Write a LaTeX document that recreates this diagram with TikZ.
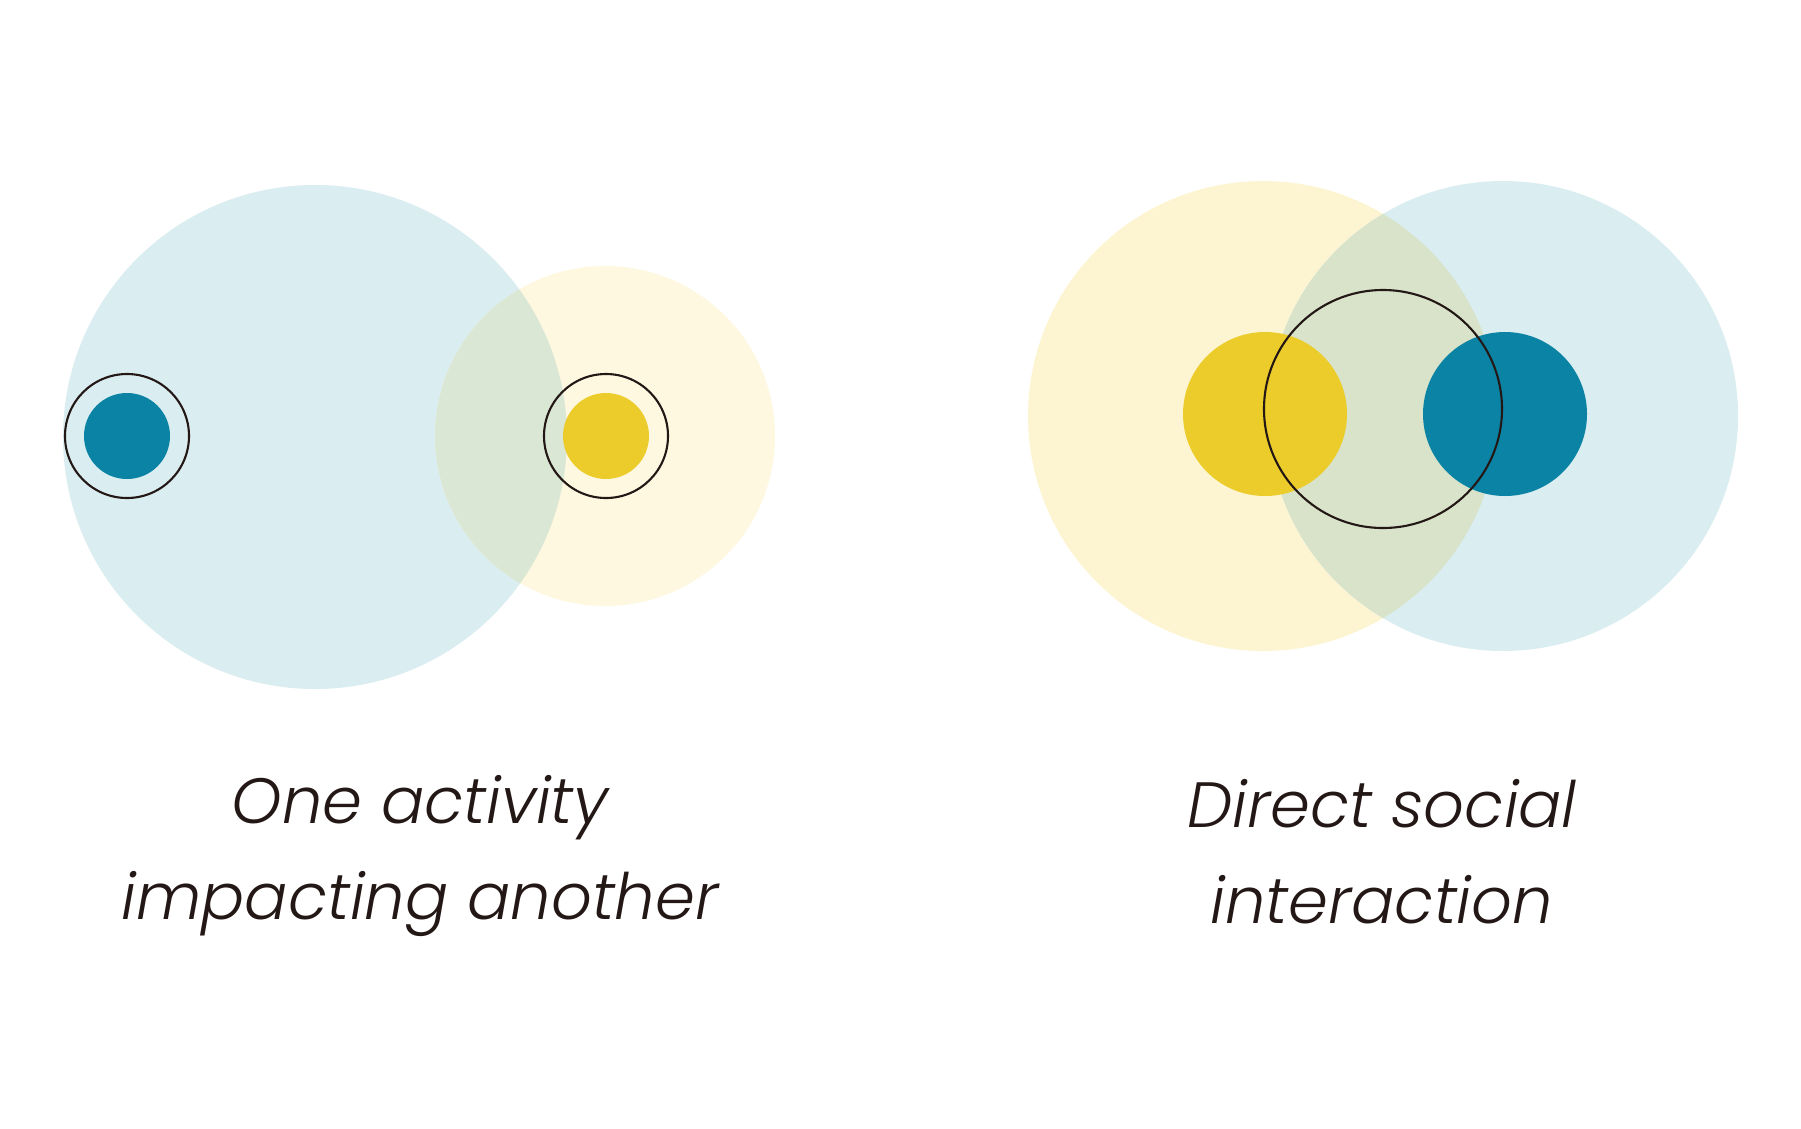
\documentclass[tikz,border=0pt]{standalone}
\usepackage{fontspec}
\newfontfamily\popfont{Poppins Light}[ItalicFont=Poppins Light Italic]
\definecolor{lblue}{HTML}{DAEDF0}
\definecolor{lyellowA}{HTML}{FEF8E1}
\definecolor{lyellowB}{HTML}{FDF5D2}
\definecolor{mixA}{HTML}{DAE7D4}
\definecolor{mixB}{HTML}{D8E3C9}
\definecolor{dblue}{HTML}{0A83A5}
\definecolor{dyellow}{HTML}{ECCC2A}
\definecolor{ink}{HTML}{231816}
\tikzset{
  ringline/.style={draw=ink, line width=2.1pt},
  lbl/.style={font=\popfont\itshape\fontsize{64pt}{76pt}\selectfont, text=ink, anchor=base, inner sep=0pt}
}
\begin{document}
\begin{tikzpicture}[x=1pt,y=-1pt]
\useasboundingbox (0,0) rectangle (1801,1128);
\fill[white] (0,0) rectangle (1801,1128);
% ---- left group ----
\fill[lblue] (315,437) circle (252pt);
\fill[lyellowA] (605,436) circle (170pt);
\begin{scope}
  \clip (315,437) circle (252pt);
  \fill[mixA] (605,436) circle (170pt);
\end{scope}
\fill[dblue] (127,436) circle (43pt);
\draw[ringline] (127,436) circle (62pt);
\fill[dyellow] (606,436) circle (43pt);
\draw[ringline] (606,436) circle (62pt);
% ---- right group ----
\fill[lyellowB] (1263,416) circle (235pt);
\fill[lblue] (1503,416) circle (235pt);
\begin{scope}
  \clip (1263,416) circle (235pt);
  \fill[mixB] (1503,416) circle (235pt);
\end{scope}
\fill[dyellow] (1265,414) circle (82pt);
\fill[dblue] (1505,414) circle (82pt);
\draw[ringline] (1383,409) circle (119pt);
% ---- labels ----
\node[lbl] (l1) at (420,823) {One activity};
\node[lbl] (l2) at (420,919) {impacting another};
\node[lbl] (r1) at (1382,827) {Direct social};
\node[lbl] (r2) at (1382,923) {interaction};
\end{tikzpicture}
\end{document}
